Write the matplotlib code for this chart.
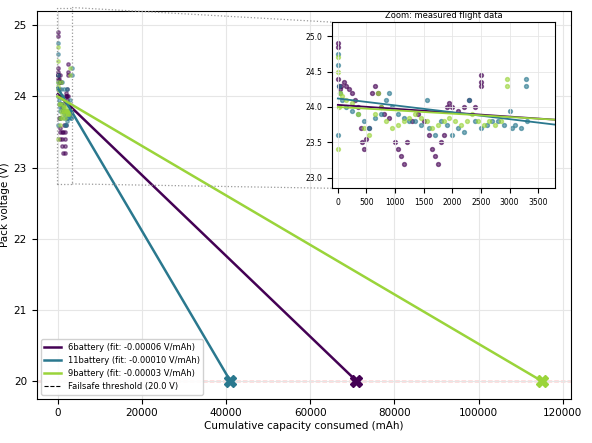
import numpy as np
import matplotlib
matplotlib.use("Agg")
import matplotlib.pyplot as plt
from matplotlib.lines import Line2D

cap_6 = [0, 5, 10, 20, 40, 60, 100, 150, 200, 250, 300, 350, 400, 430, 460, 500, 550,
         600, 650, 700, 750, 800, 900, 1000, 1050, 1100, 1150, 1200, 1300, 1400, 1500,
         1600, 1650, 1700, 1750, 1800, 1850, 1900, 1950, 2000, 2100, 2200, 2300, 2400,
         2500, 2500, 2500]
v_6 = [24.9, 24.85, 24.4, 24.3, 24.25, 24.3, 24.35, 24.3, 24.25, 24.2, 24.1, 24.0, 23.7,
       23.5, 23.4, 23.55, 23.7, 24.2, 24.3, 24.2, 24.0, 23.9, 23.85, 23.5, 23.4, 23.3,
       23.2, 23.5, 23.8, 23.9, 23.8, 23.6, 23.4, 23.3, 23.2, 23.5, 23.6, 24.0, 24.05,
       24.0, 23.95, 24.0, 24.1, 24.0, 24.45, 24.35, 24.3]
cap_11 = [0, 5, 10, 20, 40, 80, 150, 250, 350, 450, 550, 650, 750, 850, 900, 950, 1050,
          1150, 1250, 1350, 1450, 1550, 1600, 1700, 1800, 1900, 2000, 2100, 2200, 2300,
          2400, 2500, 2600, 2700, 2800, 2900, 3000, 3050, 3100, 3200, 3280, 3290, 3300]
v_11 = [24.75, 24.6, 23.6, 24.3, 24.2, 24.1, 24.0, 23.95, 23.9, 23.8, 23.7, 23.85, 23.9,
        24.1, 24.2, 24.0, 23.9, 23.85, 23.8, 23.8, 23.75, 24.1, 23.7, 23.6, 23.8, 23.75,
        23.6, 23.7, 23.65, 24.1, 23.8, 23.7, 23.75, 23.8, 23.8, 23.75, 23.95, 23.7,
        23.75, 23.7, 24.4, 24.3, 23.8]
cap_9 = [0, 5, 10, 20, 40, 80, 150, 250, 350, 450, 550, 650, 700, 750, 850, 950, 1050,
         1150, 1250, 1350, 1450, 1550, 1650, 1750, 1850, 1950, 2050, 2150, 2250, 2350,
         2450, 2550, 2650, 2750, 2850, 2950, 2950]
v_9 = [24.7, 24.5, 23.4, 24.0, 24.2, 24.15, 24.1, 24.05, 23.9, 23.7, 23.6, 23.9, 24.2,
       24.0, 23.8, 23.7, 23.75, 23.8, 23.85, 23.9, 23.85, 23.8, 23.7, 23.75, 23.8, 23.85,
       23.8, 23.75, 23.8, 23.9, 23.8, 23.75, 23.8, 23.75, 23.8, 24.4, 24.3]

# ---- linear fits ----
names = ["6battery", "11battery", "9battery"]
intercepts = [24.03, 24.12, 24.00]
slopes = [-0.0000568, -0.0001005, -0.0000348]
slope_labels = ["-0.00006", "-0.00010", "-0.00003"]
# fit lines as drawn inside the zoom panel (value at 0 and at 3800 mAh)
inset_x = [0, 3800]
inset_v = [[24.03, 23.82], [24.12, 23.75], [24.00, 23.82]]
colors = ["#440154", "#2a788e", "#9ad43a"]
failsafe = 20.0

caps = [cap_6, cap_11, cap_9]
volts = [v_6, v_11, v_9]

fig = plt.figure(figsize=(5.92, 4.43), dpi=100)
ax = fig.add_axes([0.062, 0.10, 0.903, 0.875])

for c, v, b, m, sl, col, nm in zip(caps, volts, intercepts, slopes, slope_labels, colors, names):
    ax.scatter(c, v, s=6, color=col, alpha=0.5, zorder=2)
    x_end = (failsafe - b) / m
    ax.plot([0, x_end], [b, failsafe], color=col, lw=1.8, zorder=3,
            label=f"{nm} (fit: {sl} V/mAh)")
    ax.plot([x_end], [failsafe], marker="X", ms=8, color=col, zorder=4)

ax.axhline(failsafe, color="red", ls="--", lw=0.9, zorder=1)
ax.plot([], [], color="k", ls="--", lw=0.8, label=f"Failsafe threshold ({failsafe} V)")

ax.set_xlim(-5000, 122000)
ax.set_ylim(19.75, 25.2)
ax.set_xticks([0, 20000, 40000, 60000, 80000, 100000, 120000])
ax.grid(True, color="#e6e6e6", lw=0.8)
ax.set_xlabel("Cumulative capacity consumed (mAh)", fontsize=7.5, labelpad=2)
ax.set_ylabel("Pack voltage (V)", fontsize=7.5, labelpad=3)
ax.tick_params(labelsize=7.5)
ax.legend(loc="lower left", fontsize=6, framealpha=0.9)

# zoom box on main axes
bx0, bx1, by0, by1 = -150, 3400, 22.77, 25.25
ax.plot([bx0, bx1, bx1, bx0, bx0], [by0, by0, by1, by1, by0],
        ls=":", color="#999999", lw=0.9, zorder=5, clip_on=False)

# inset
ix0, iy0, iw, ih = 0.561, 0.575, 0.377, 0.375
ins = fig.add_axes([ix0, iy0, iw, ih])
for c, v, iv, col in zip(caps, volts, inset_v, colors):
    ins.scatter(c, v, s=8, color=col, alpha=0.6)
    ins.plot(inset_x, iv, color=col, lw=1.3)
ins.set_xlim(-100, 3800)
ins.set_ylim(22.85, 25.2)
ins.set_xticks([0, 500, 1000, 1500, 2000, 2500, 3000, 3500])
ins.set_yticks([23.0, 23.5, 24.0, 24.5, 25.0])
ins.tick_params(labelsize=5.5)
ins.grid(True, color="#e6e6e6", lw=0.6)
ins.set_title("Zoom: measured flight data", fontsize=6, pad=3)

# connector lines from box to inset
fig.canvas.draw()
p_top = ax.transData.transform((bx1, by1))
p_bot = ax.transData.transform((bx1, by0))
W, H = fig.bbox.width, fig.bbox.height
fig.add_artist(Line2D([p_top[0] / W, ix0], [p_top[1] / H, iy0 + ih],
                      ls=":", color="#999999", lw=0.9))
fig.add_artist(Line2D([p_bot[0] / W, ix0], [p_bot[1] / H, iy0],
                      ls=":", color="#999999", lw=0.9))

fig.savefig("out.png", dpi=100)
